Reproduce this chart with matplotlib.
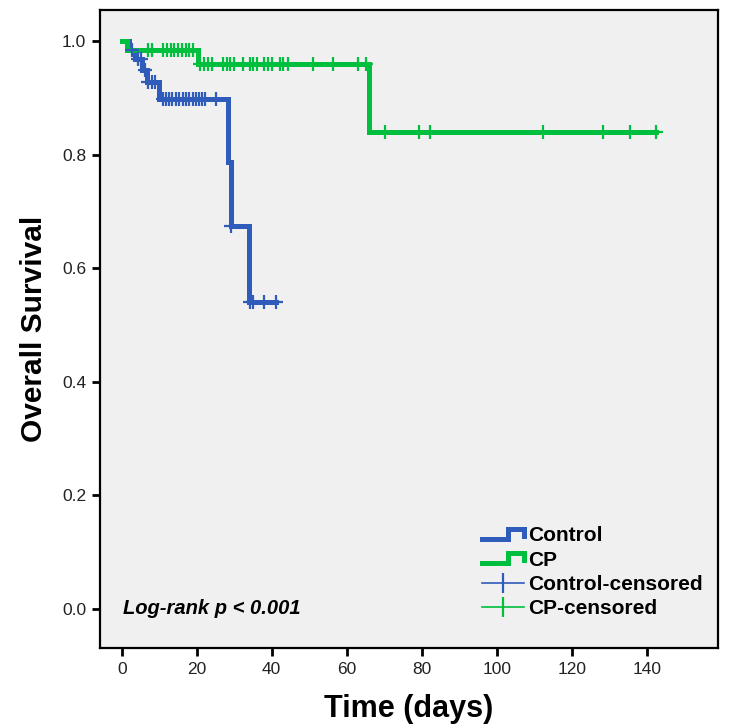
import matplotlib.pyplot as plt
import numpy as np
from matplotlib.lines import Line2D
from matplotlib.legend_handler import HandlerBase

plt.rcParams['font.family'] = ['Liberation Sans', 'DejaVu Sans']

# Kaplan-Meier steps
ctrl_times = [0, 2.0, 3.5, 5.5, 6.8, 10.0, 28.3, 29.0, 34.0]
ctrl_surv = [1.0, 0.984, 0.968, 0.950, 0.929, 0.899, 0.787, 0.674, 0.540]
ctrl_end = 41.1
ctrl_cens_t = [2.7, 4.4, 5.0, 6.2, 7.1, 8.0, 8.9,
               10.9, 11.7, 12.6, 13.5, 14.4, 15.3, 16.2, 17.1, 18.0, 18.9, 19.8,
               20.7, 21.5, 22.1, 25.1, 29.0, 34.3, 34.9, 38.0, 41.1]

cp_times = [0, 1.3, 20.2, 66.0]
cp_surv = [1.0, 0.984, 0.959, 0.840]
cp_end = 142.5
cp_cens_t = [7.1, 8.0, 11.1, 12.0, 13.1, 14.0, 15.1, 16.1, 17.1, 18.0, 19.1,
             20.9, 21.9, 23.1, 24.0, 27.1, 28.0, 28.9, 30.0, 32.2, 34.2, 35.1,
             36.0, 38.0, 38.9, 40.0, 42.2, 43.1, 44.2, 51.1, 56.2, 63.1, 65.1,
             70.2, 79.3, 82.3, 112.3, 128.3, 135.4, 142.5]

blue = '#2F5BBA'
green = '#00BF3F'


def surv_at(times, surv, t):
    i = np.searchsorted(times, t, side='right') - 1
    return surv[i]


class StepHandler(HandlerBase):
    def create_artists(self, legend, orig_handle, xdescent, ydescent,
                       width, height, fontsize, trans):
        xs = np.array([0, 0.62, 0.62, 1.0, 1.0]) * width - xdescent
        ys = np.array([0.15, 0.15, 0.85, 0.85, 0.35]) * height - ydescent
        ln = Line2D(xs, ys, color=orig_handle.get_color(),
                    lw=orig_handle.get_linewidth(), solid_joinstyle='miter',
                    transform=trans)
        return [ln]


fig = plt.figure(figsize=(7.29, 7.28), dpi=100)
ax = fig.add_axes([100 / 729, 1 - 648 / 728, 618 / 729, 638 / 728])
ax.set_facecolor('#F0F0F0')

# step curves
for times, surv, end, col in [(ctrl_times, ctrl_surv, ctrl_end, blue),
                               (cp_times, cp_surv, cp_end, green)]:
    xs = list(times) + [end]
    ys = list(surv) + [surv[-1]]
    ax.step(xs, ys, where='post', color=col, lw=3.6, solid_joinstyle='miter', zorder=3)

# censor marks
for cens, times, surv, col in [(cp_cens_t, cp_times, cp_surv, green),
                               (ctrl_cens_t, ctrl_times, ctrl_surv, blue)]:
    cy = [surv_at(times, surv, t) for t in cens]
    ax.plot(cens, cy, linestyle='none', marker='+', markersize=10,
            markeredgewidth=1.6, color=col, zorder=4)

ax.set_xlim(-5.8, 159)
ax.set_ylim(-0.069, 1.055)
ax.set_xticks(np.arange(0, 141, 20))
ax.set_yticks(np.arange(0, 1.01, 0.2))
ax.set_yticklabels(['%.1f' % v for v in np.arange(0, 1.01, 0.2)])
ax.tick_params(direction='out', length=6, width=2, labelsize=12.5, pad=4,
               labelcolor='#222222')
for sp in ax.spines.values():
    sp.set_linewidth(1.6)

ax.set_xlabel('Time (days)', fontsize=22, fontweight='bold', labelpad=12)
ax.set_ylabel('Overall Survival', fontsize=21.5, fontweight='bold', labelpad=10)

ax.text(0.3, 0.0, 'Log-rank p < 0.001', fontsize=14.5, fontweight='bold',
        fontstyle='italic', va='center', ha='left')

h_ctrl = Line2D([], [], color=blue, lw=3.6)
h_cp = Line2D([], [], color=green, lw=3.6)
h_cc = Line2D([], [], color=blue, lw=1.2, marker='|', markersize=15, markeredgewidth=1.6)
h_cpc = Line2D([], [], color=green, lw=1.2, marker='|', markersize=15, markeredgewidth=1.6)
leg = ax.legend([h_ctrl, h_cp, h_cc, h_cpc],
                ['Control', 'CP', 'Control-censored', 'CP-censored'],
                handler_map={h_ctrl: StepHandler(), h_cp: StepHandler()},
                loc='lower right', bbox_to_anchor=(1.005, 0.017), frameon=False,
                prop={'weight': 'bold', 'size': 15}, handlelength=2.0,
                handletextpad=0.2, labelspacing=0.26, numpoints=1)

plt.savefig('out.png', dpi=100)
